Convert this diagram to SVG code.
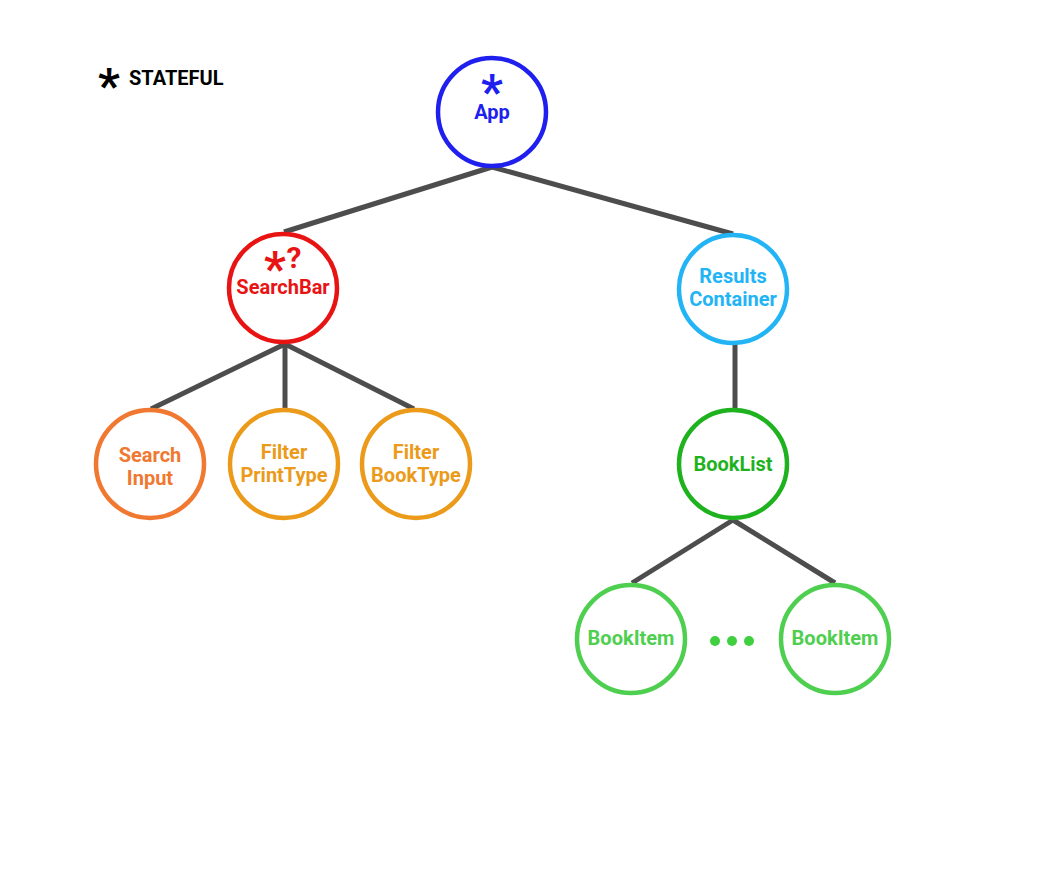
<svg xmlns="http://www.w3.org/2000/svg" width="1044" height="876" viewBox="0 0 1044 876">
<style>
.node{fill:#fff;stroke-width:4.5}
.lbl{font-family:Roboto,"Liberation Sans",sans-serif;font-weight:700;font-size:20px;text-anchor:middle}
.ast{font-family:Roboto,"Liberation Sans",sans-serif;font-weight:700;font-size:48px}
.q{font-size:30px}
.edge{stroke:#4d4d4d;stroke-width:5;fill:none}
</style>
<rect width="1044" height="876" fill="#fff"/>
<g id="legend">
<text class="lbl" fill="#000" style="text-anchor:start"><tspan class="ast" x="98" y="102">*</tspan><tspan x="129" y="85">STATEFUL</tspan></text>
</g>
<g id="connectors">
<line class="edge" x1="492" y1="167" x2="284" y2="232"/>
<line class="edge" x1="492" y1="167" x2="733" y2="234"/>
<line class="edge" x1="285" y1="344" x2="151" y2="409"/>
<line class="edge" x1="285" y1="344" x2="285" y2="409"/>
<line class="edge" x1="285" y1="344" x2="414" y2="409"/>
<line class="edge" x1="735" y1="344" x2="735" y2="409"/>
<line class="edge" x1="733" y1="520" x2="632" y2="583"/>
<line class="edge" x1="733" y1="520" x2="835" y2="583"/>
</g>
<g id="app">
<circle class="node" cx="492" cy="112" r="54" stroke="#2020ee"/>
<text class="lbl" fill="#2020ee"><tspan class="ast" x="492" y="108">*</tspan><tspan x="492" y="119">App</tspan></text>
</g>
<g id="searchbar">
<circle class="node" cx="283" cy="288" r="54" stroke="#e81414"/>
<text class="lbl" fill="#e81414"><tspan class="ast" x="275" y="285">*</tspan><tspan class="q" x="294" y="268">?</tspan><tspan x="283" y="294">SearchBar</tspan></text>
</g>
<g id="results-container">
<circle class="node" cx="733" cy="289" r="54" stroke="#22b4f5"/>
<text class="lbl" x="733" y="283" fill="#22b4f5">Results</text>
<text class="lbl" x="733" y="306" fill="#22b4f5">Container</text>
</g>
<g id="search-input">
<circle class="node" cx="150" cy="464" r="54" stroke="#f07830"/>
<text class="lbl" x="150" y="462" fill="#f07830">Search</text>
<text class="lbl" x="150" y="485" fill="#f07830">Input</text>
</g>
<g id="filter-printtype">
<circle class="node" cx="284" cy="464" r="54" stroke="#eb9a1a"/>
<text class="lbl" x="284" y="459" fill="#eb9a1a">Filter</text>
<text class="lbl" x="284" y="482" fill="#eb9a1a">PrintType</text>
</g>
<g id="filter-booktype">
<circle class="node" cx="416" cy="464" r="54" stroke="#eb9a1a"/>
<text class="lbl" x="416" y="459" fill="#eb9a1a">Filter</text>
<text class="lbl" x="416" y="482" fill="#eb9a1a">BookType</text>
</g>
<g id="booklist">
<circle class="node" cx="733" cy="464" r="54" stroke="#1fb21f"/>
<text class="lbl" x="733" y="471" fill="#1fb21f">BookList</text>
</g>
<g id="bookitem-1">
<circle class="node" cx="631" cy="639" r="54" stroke="#4fcf4f"/>
<text class="lbl" x="631" y="645" fill="#4fcf4f">BookItem</text>
</g>
<g id="ellipsis">
<circle cx="715" cy="641" r="5" fill="#3fcf3f"/>
<circle cx="732" cy="641" r="5" fill="#3fcf3f"/>
<circle cx="749" cy="641" r="5" fill="#3fcf3f"/>
</g>
<g id="bookitem-2">
<circle class="node" cx="835" cy="639" r="54" stroke="#4fcf4f"/>
<text class="lbl" x="835" y="645" fill="#4fcf4f">BookItem</text>
</g>
</svg>
